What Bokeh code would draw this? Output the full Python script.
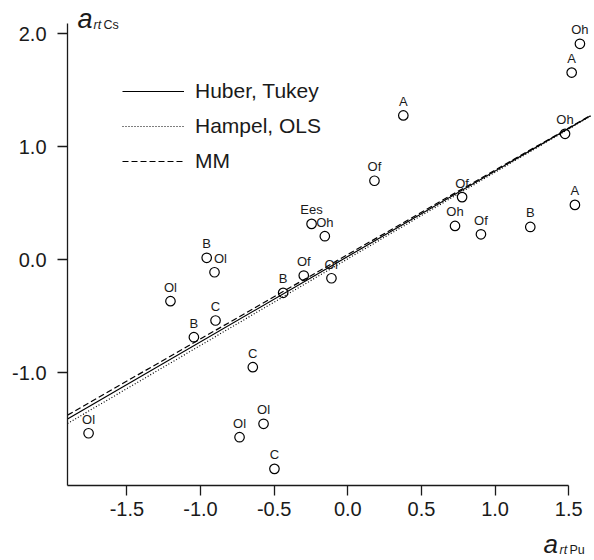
from bokeh.plotting import figure
from bokeh.models import Range1d, FixedTicker, Legend, LegendItem, Label, ColumnDataSource
from bokeh.core.properties import value
from bokeh.embed import file_html
from bokeh.resources import INLINE

# ---- data ----
x_pu = [1.576, 1.520, 0.377, 1.475, 0.181, 0.776, 0.728, 0.904, 1.239, 1.542,
        -0.246, -0.156, -0.299, -0.111, -0.958, -0.905, -1.204, -0.898, -1.045,
        -0.439, -0.645, -0.572, -0.735, -0.498, -1.760]
y_cs = [1.912, 1.657, 1.278, 1.115, 0.700, 0.555, 0.300, 0.226, 0.291, 0.486,
        0.318, 0.209, -0.139, -0.163, 0.018, -0.110, -0.366, -0.537, -0.685,
        -0.292, -0.950, -1.451, -1.570, -1.850, -1.535]
group = ["Oh", "A", "A", "Oh", "Of", "Of", "Oh", "Of", "B", "A",
         "Ees", "Oh", "Of", "Of", "B", "Ol", "Ol", "C", "B",
         "B", "C", "Ol", "Ol", "C", "Ol"]

fit_names = ["Huber, Tukey", "Hampel, OLS", "MM"]
fit_intercept = [0.030, 0.009, 0.047]
fit_slope = [0.756, 0.766, 0.747]

x_ticks = [-1.5, -1.0, -0.5, 0.0, 0.5, 1.0, 1.5]
x_tick_labels = ["-1.5", "-1.0", "-0.5", "0.0", "0.5", "1.0", "1.5"]
y_ticks = [-1.0, 0.0, 1.0, 2.0]
y_tick_labels = ["-1.0", "0.0", "1.0", "2.0"]

# axes extents (data units) and the visible window around them
X_AX0, X_AX1 = -1.903, 1.5
Y_AX0, Y_AX1 = -1.993, 2.091
X0, X1 = -2.358, 1.675
Y0, Y1 = -2.661, 2.295
X_LINE_END = 1.648

FONT = "Liberation Sans"
INK = "#1a1a1a"

p = figure(width=594, height=560, x_range=Range1d(X0, X1), y_range=Range1d(Y0, Y1),
           output_backend="svg", toolbar_location=None,
           min_border_left=0, min_border_right=0, min_border_top=0, min_border_bottom=0)
p.outline_line_color = None
p.grid.visible = False
p.background_fill_color = "white"
p.border_fill_color = "white"

for ax, ticks, labels in ((p.xaxis[0], x_ticks, x_tick_labels), (p.yaxis[0], y_ticks, y_tick_labels)):
    ax.ticker = FixedTicker(ticks=ticks)
    ax.major_label_overrides = {t: l for t, l in zip(ticks, labels)}
    ax.minor_tick_line_color = None
    ax.major_tick_in = 0
    ax.major_tick_out = 10
    ax.axis_line_color = INK
    ax.axis_line_width = 1.3
    ax.major_tick_line_color = INK
    ax.major_tick_line_width = 1.3
    ax.major_label_text_font = FONT
    ax.major_label_text_font_size = "20px"
    ax.major_label_text_color = INK
p.xaxis[0].fixed_location = Y_AX0
p.yaxis[0].fixed_location = X_AX0
p.xaxis[0].bounds = (X_AX0, X_AX1)
p.yaxis[0].bounds = (Y_AX0, Y_AX1)
p.xaxis[0].major_label_standoff = 7
p.yaxis[0].major_label_standoff = 11

# regression lines
styles = [dict(line_dash="solid"), dict(line_dash="1 2"), dict(line_dash="6 3")]
items = []
for name, b0, b1, st in zip(fit_names, fit_intercept, fit_slope, styles):
    xs = [X_AX0, X_LINE_END]
    ys = [b0 + b1 * xv for xv in xs]
    r = p.line(xs, ys, line_color="black", line_width=1.2, **st)
    items.append(LegendItem(label=name, renderers=[r]))

# label nudges (screen px) for crowded points
dx = [0.0] * len(group)
dx[15] = 6.0
src = ColumnDataSource(dict(x=x_pu, y=y_cs, g=group, dx=dx))
p.scatter("x", "y", source=src, marker="circle", size=9.5, fill_color=None,
          line_color="black", line_width=1.2)
p.text("x", "y", text="g", source=src, text_align="center", text_baseline="alphabetic",
       x_offset="dx", y_offset=-14, text_font=value(FONT), text_font_size="13px",
       text_color=INK)

legend = Legend(items=items, location=(122, 387), orientation="vertical",
                glyph_width=62, glyph_height=20, label_height=20, label_standoff=11,
                spacing=11, padding=0, margin=0, border_line_color=None,
                background_fill_alpha=0, label_text_font=FONT,
                label_text_font_size="21px", label_text_color=INK)
p.add_layout(legend, "center")

# axis titles a_rt Cs / a_rt Pu
def axis_title(x, y, sub, size):
    p.add_layout(Label(x=x, y=y, x_units="screen", y_units="screen", text="a",
                       text_font=FONT, text_font_style="italic", text_font_size=size,
                       text_color=INK, text_baseline="alphabetic"))
    p.add_layout(Label(x=x + 16, y=y - 6, x_units="screen", y_units="screen", text="rt",
                       text_font=FONT, text_font_style="italic", text_font_size="12.5px",
                       text_color=INK, text_baseline="alphabetic"))
    p.add_layout(Label(x=x + 26, y=y - 6, x_units="screen", y_units="screen", text=sub,
                       text_font=FONT, text_font_size="12.5px",
                       text_color=INK, text_baseline="alphabetic"))

axis_title(77, 542, "Cs", "27px")
axis_title(543, 17, "Pu", "26px")

open("out.html", "w").write(file_html(p, INLINE))
